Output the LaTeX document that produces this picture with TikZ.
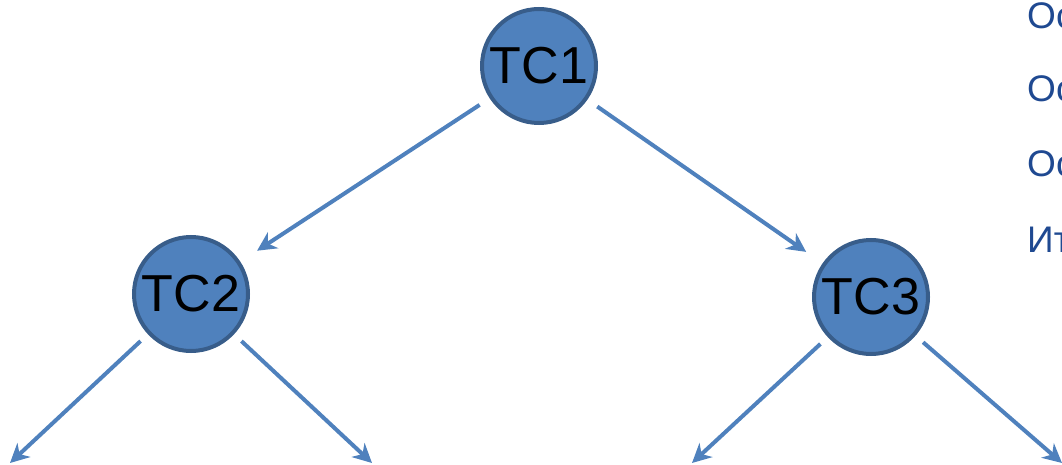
\documentclass[tikz,border=0pt]{standalone}
\usepackage{fontspec}
\setmainfont{Liberation Sans}
\usetikzlibrary{arrows.meta, positioning}
\definecolor{cFill}{RGB}{79,129,189}
\definecolor{cEdge}{RGB}{56,93,138}
\definecolor{cText}{RGB}{31,73,145}
\tikzset{
	tcnode/.style ={circle, draw=cEdge, line width=4pt, fill=cFill, minimum size=114pt, inner sep=0pt, font=\fontsize{52}{62}\selectfont},
	treearrow/.style={-{Stealth[length=19pt, width=19pt, inset=6pt]}, line width=4pt, draw=cFill},
	sidetext/.style ={anchor=west, inner sep=0pt, text=cText, font=\fontsize{37}{44}\selectfont},
}
\begin{document}
\begin{tikzpicture}[x=1pt, y=-1pt]
	\useasboundingbox (0,0) rectangle (1062,465);
	\clip (0,0) rectangle (1062,465);
	% tree nodes
	\node[tcnode] (tc1) at (539,66) {TC1};
	\node[tcnode] (tc2) at (191,294) {TC2};
	\node[tcnode] (tc3) at (871,297) {TC3};
	% free ends of the lower arrows
	\coordinate (c2l) at (10,463);
	\coordinate (c2r) at (372,463);
	\coordinate (c3l) at (692,463);
	\coordinate (c3r) at (1062,463);
	% connectors
	\draw[treearrow, shorten <=12pt, shorten >=20pt] (tc1) -- (tc2);
	\draw[treearrow, shorten <=12pt, shorten >=20pt] (tc1) -- (tc3);
	\draw[treearrow, shorten <=10pt] (tc2) -- (c2l);
	\draw[treearrow, shorten <=10pt] (tc2) -- (c2r);
	\draw[treearrow, shorten <=10pt] (tc3) -- (c3l);
	\draw[treearrow, shorten <=10pt] (tc3) -- (c3r);
	% text at the right edge
	\node[sidetext] (t1) at (1027,16) {Ос};
	\node[sidetext] (t2) at (1027,89) {Ос};
	\node[sidetext] (t3) at (1027,164) {Ос};
	\node[sidetext] (t4) at (1027,240) {Ит};
\end{tikzpicture}
\end{document}
